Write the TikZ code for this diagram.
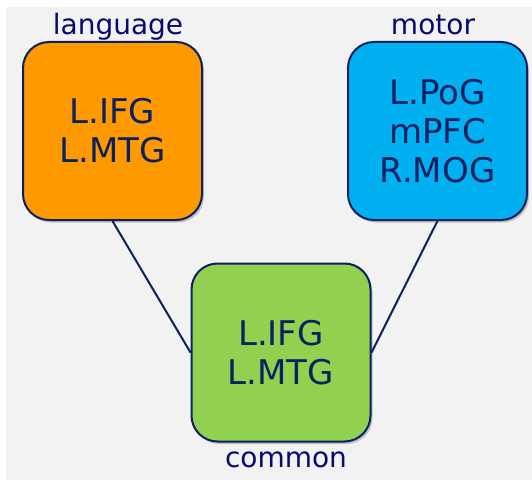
\documentclass[tikz,border=0pt]{standalone}
\usepackage{fontspec}
\setmainfont{DejaVu Sans}
\usetikzlibrary{shadows}
\definecolor{navy}{HTML}{0A2060}
\definecolor{labelnavy}{HTML}{0A0A6E}
\definecolor{bggray}{HTML}{F2F2F2}
\definecolor{boxorange}{HTML}{FF9900}
\definecolor{boxblue}{HTML}{00B0F0}
\definecolor{boxgreen}{HTML}{92D050}
\tikzset{
  region/.style={draw=navy, line width=2pt, rounded corners=26pt,
    minimum width=179pt, minimum height=178pt, align=center,
    text=navy, font=\fontsize{34}{39}\selectfont,
    drop shadow={shadow xshift=2pt, shadow yshift=-2.5pt, opacity=0.35, fill=black!60}},
  tag/.style={text=labelnavy, font=\fontsize{28}{30}\selectfont, anchor=base},
  link/.style={draw=navy, line width=2pt}
}
\begin{document}
\begin{tikzpicture}[x=1pt, y=-1pt]
  \useasboundingbox (0,0) rectangle (532,481);
  \fill[bggray] (6,7) rectangle (532,480);

  \node[region, fill=boxorange] (lang) at (112.5,131) {L.IFG\\L.MTG};
  \node[region, fill=boxblue] (motor) at (437.5,131) {L.PoG\\mPFC\\R.MOG};
  \node[region, fill=boxgreen] (common) at (281,352.5) {L.IFG\\L.MTG};

  \node[tag] (langtag) at (118,35) {language};
  \node[tag] (motortag) at (433,35) {motor};
  \node[tag] (commontag) at (286,467) {common};

  \draw[link] (lang.south) -- (common.west);
  \draw[link] (motor.south) -- (common.east);
\end{tikzpicture}
\end{document}
